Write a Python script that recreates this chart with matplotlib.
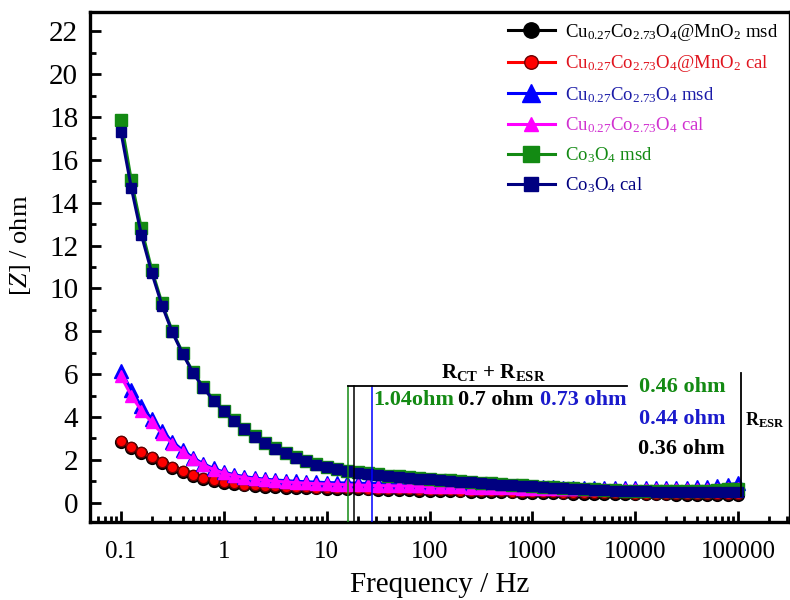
import matplotlib
matplotlib.use("Agg")
import matplotlib.pyplot as plt
from matplotlib.ticker import FixedLocator, FixedFormatter, MultipleLocator, LogLocator, NullFormatter

plt.rcParams["font.family"] = ["Liberation Serif", "DejaVu Serif"]
plt.rcParams["mathtext.fontset"] = "custom"
plt.rcParams["mathtext.rm"] = "Liberation Serif"
plt.rcParams["mathtext.it"] = "Liberation Serif:italic"
plt.rcParams["mathtext.bf"] = "Liberation Serif:bold"
plt.rcParams["mathtext.default"] = "regular"

# frequency grid (Hz), 10 points per decade
freq = [0.1, 0.126, 0.158, 0.2, 0.251, 0.316, 0.398, 0.501, 0.631, 0.794,
        1, 1.26, 1.58, 2, 2.51, 3.16, 3.98, 5.01, 6.31, 7.94,
        10, 12.6, 15.8, 20, 25.1, 31.6, 39.8, 50.1, 63.1, 79.4,
        100, 126, 158, 200, 251, 316, 398, 501, 631, 794,
        1000, 1260, 1580, 2000, 2510, 3160, 3980, 5010, 6310, 7940,
        10000, 12600, 15800, 20000, 25100, 31600, 39800, 50100, 63100, 79400,
        100000]

cu_mno2_msd = [2.85, 2.55, 2.3, 2.07, 1.85, 1.63, 1.44, 1.27, 1.13, 1.02,
               0.93, 0.86, 0.81, 0.77, 0.74, 0.72, 0.7, 0.69, 0.68, 0.67,
               0.66, 0.65, 0.64, 0.63, 0.62, 0.61, 0.6, 0.59, 0.58, 0.57,
               0.56, 0.55, 0.54, 0.53, 0.52, 0.51, 0.5, 0.49, 0.48, 0.47,
               0.46, 0.45, 0.44, 0.44, 0.43, 0.42, 0.42, 0.41, 0.41, 0.4,
               0.4, 0.39, 0.39, 0.39, 0.38, 0.38, 0.38, 0.38, 0.38, 0.38,
               0.38]
cu_mno2_cal = [2.9, 2.6, 2.36, 2.12, 1.9, 1.68, 1.48, 1.31, 1.17, 1.06,
               0.97, 0.9, 0.85, 0.81, 0.78, 0.76, 0.74, 0.73, 0.72, 0.71,
               0.7, 0.69, 0.68, 0.67, 0.66, 0.65, 0.64, 0.63, 0.62, 0.61,
               0.6, 0.59, 0.58, 0.57, 0.56, 0.55, 0.54, 0.53, 0.52, 0.51,
               0.5, 0.49, 0.48, 0.47, 0.46, 0.46, 0.45, 0.45, 0.44, 0.44,
               0.43, 0.43, 0.42, 0.42, 0.42, 0.41, 0.41, 0.41, 0.41, 0.4,
               0.4]
cu_msd = [6.15, 5.25, 4.5, 3.9, 3.35, 2.85, 2.45, 2.1, 1.82, 1.6,
          1.43, 1.31, 1.22, 1.15, 1.1, 1.06, 1.03, 1.0, 0.98, 0.96,
          0.94, 0.93, 0.92, 0.91, 0.9, 0.89, 0.88, 0.87, 0.86, 0.85,
          0.84, 0.83, 0.82, 0.81, 0.8, 0.79, 0.78, 0.77, 0.76, 0.75,
          0.74, 0.73, 0.72, 0.71, 0.7, 0.7, 0.69, 0.69, 0.69, 0.69,
          0.69, 0.69, 0.69, 0.69, 0.7, 0.7, 0.72, 0.75, 0.79, 0.84,
          0.9]
cu_cal = [5.9, 5.0, 4.3, 3.75, 3.22, 2.75, 2.36, 2.03, 1.76, 1.55,
          1.38, 1.26, 1.17, 1.1, 1.05, 1.0, 0.97, 0.94, 0.91, 0.89,
          0.87, 0.85, 0.84, 0.82, 0.81, 0.8, 0.79, 0.78, 0.77, 0.76,
          0.75, 0.74, 0.73, 0.72, 0.71, 0.7, 0.69, 0.68, 0.67, 0.66,
          0.66, 0.65, 0.65, 0.64, 0.64, 0.64, 0.64, 0.64, 0.64, 0.64,
          0.64, 0.64, 0.64, 0.64, 0.64, 0.65, 0.65, 0.66, 0.66, 0.67,
          0.68]
co3o4_msd = [17.85, 15.05, 12.8, 10.85, 9.3, 8.0, 7.0, 6.1, 5.4, 4.8,
             4.3, 3.85, 3.45, 3.1, 2.8, 2.55, 2.32, 2.12, 1.95, 1.8,
             1.68, 1.58, 1.5, 1.43, 1.37, 1.32, 1.27, 1.23, 1.19, 1.15,
             1.12, 1.08, 1.04, 1.0, 0.97, 0.93, 0.9, 0.87, 0.84, 0.81,
             0.78, 0.75, 0.72, 0.7, 0.67, 0.65, 0.63, 0.61, 0.59, 0.57,
             0.56, 0.55, 0.54, 0.53, 0.53, 0.53, 0.54, 0.56, 0.59, 0.62,
             0.66]
co3o4_cal = [17.3, 14.7, 12.5, 10.7, 9.2, 7.95, 6.95, 6.07, 5.37, 4.77,
             4.27, 3.83, 3.43, 3.08, 2.78, 2.53, 2.3, 2.1, 1.93, 1.78,
             1.66, 1.56, 1.48, 1.41, 1.35, 1.3, 1.25, 1.21, 1.17, 1.13,
             1.1, 1.06, 1.02, 0.98, 0.95, 0.91, 0.88, 0.85, 0.82, 0.79,
             0.76, 0.73, 0.7, 0.68, 0.65, 0.63, 0.61, 0.59, 0.57, 0.55,
             0.54, 0.53, 0.52, 0.51, 0.5, 0.5, 0.5, 0.5, 0.5, 0.5,
             0.5]

labels = [r"Cu$_{0.27}$Co$_{2.73}$O$_4$@MnO$_2$ msd",
          r"Cu$_{0.27}$Co$_{2.73}$O$_4$@MnO$_2$ cal",
          r"Cu$_{0.27}$Co$_{2.73}$O$_4$ msd",
          r"Cu$_{0.27}$Co$_{2.73}$O$_4$ cal",
          r"Co$_3$O$_4$ msd",
          r"Co$_3$O$_4$ cal"]
colors = ["black", "#ff0000", "#0000ff", "#ff00ff", "#138a13", "#000080"]
text_colors = ["black", "#e0141e", "#1c1ca8", "#d030d0", "#138a13", "#000080"]
xtick_vals = [0.1, 1, 10, 100, 1000, 10000, 100000]
xtick_text = ["0.1", "1", "10", "100", "1000", "10000", "100000"]

fig = plt.figure(figsize=(7.9, 6.0), dpi=100)
ax = fig.add_axes([90 / 790, 78 / 600, 700 / 790, 510 / 600])

series = [cu_mno2_msd, cu_mno2_cal, cu_msd, cu_cal, co3o4_msd, co3o4_cal]
markers = ["o", "o", "^", "^", "s", "s"]
msizes = [8.5, 7.5, 10, 8, 9, 7.5]
edges = ["black", "#6a0000", "#0000ff", "#ff00ff", "#138a13", "#000080"]
for vals, lab, c, m, ms, ec in zip(series, labels, colors, markers, msizes, edges):
    ax.plot(freq, vals, color=c, marker=m, markersize=ms, lw=2.2,
            markeredgecolor=ec, markeredgewidth=1.0, label=lab)

ax.set_xscale("log")
ax.set_xlim(0.05, 3.2e5)
ax.set_ylim(-0.9, 22.9)

ax.xaxis.set_major_locator(FixedLocator(xtick_vals))
ax.xaxis.set_major_formatter(FixedFormatter(xtick_text))
ax.xaxis.set_minor_locator(LogLocator(base=10, subs=range(2, 10), numticks=20))
ax.xaxis.set_minor_formatter(NullFormatter())
ax.yaxis.set_major_locator(MultipleLocator(2))
ax.yaxis.set_minor_locator(MultipleLocator(1))

ax.tick_params(which="both", direction="in", top=False, right=False, width=2)
ax.tick_params(which="major", length=8)
ax.tick_params(which="minor", length=4.5)
ax.tick_params(axis="x", which="major", labelsize=18, pad=14)
ax.tick_params(axis="y", which="major", labelsize=21, pad=8.5)
for sp in ax.spines.values():
    sp.set_linewidth(2.4)

ax.set_xlabel("Frequency / Hz", fontsize=21, labelpad=6)
ax.set_ylabel(r"[$\mathit{Z}$] / ohm", fontsize=19)
ax.yaxis.set_label_coords(-0.081, 0.543)

# R_CT + R_ESR markers
ax.plot([16.1, 16.1], [-0.9, 5.47], color="#138a13", lw=1.1, zorder=10)
ax.plot([18.4, 18.4], [-0.9, 5.47], color="black", lw=1.1, zorder=10)
ax.plot([27.6, 27.6], [-0.9, 5.47], color="#0000ff", lw=1.1, zorder=10)
ax.plot([16.1, 8300], [5.47, 5.47], color="black", lw=1.3, zorder=10)
ax.text(420, 5.6, r"$\mathbf{R}_{\mathbf{CT}}\mathbf{\,+\,R}_{\mathbf{ESR}}$",
        fontsize=15, ha="center", va="bottom")
ax.text(28.5, 4.8, "1.04ohm", color="#138a13", fontsize=16, fontweight="bold",
        ha="left", va="center")
ax.text(445, 4.8, "0.7 ohm", color="black", fontsize=16, fontweight="bold",
        ha="center", va="center")
ax.text(3100, 4.8, "0.73 ohm", color="#1a1acc", fontsize=16, fontweight="bold",
        ha="center", va="center")

# R_ESR markers
ax.plot([1.07e5, 1.07e5], [0.33, 6.07], color="black", lw=1.3, zorder=10)
ax.text(7.5e4, 5.4, "0.46 ohm", color="#138a13", fontsize=16, fontweight="bold",
        ha="right", va="center")
ax.text(7.5e4, 3.9, "0.44 ohm", color="#1a1acc", fontsize=16, fontweight="bold",
        ha="right", va="center")
ax.text(7.5e4, 2.5, "0.36 ohm", color="black", fontsize=16, fontweight="bold",
        ha="right", va="center")
ax.text(1.16e5, 3.85, r"$\mathbf{R}_{\mathbf{ESR}}$", fontsize=13,
        ha="left", va="center")

leg = ax.legend(loc="upper left", bbox_to_anchor=(508 / 790, 1 - 22 / 600),
                bbox_transform=fig.transFigure, frameon=False, fontsize=13.5,
                handlelength=2.5, handletextpad=0.56, labelspacing=0.56,
                markerscale=1.3, borderaxespad=0, borderpad=0)
for txt, c in zip(leg.get_texts(), text_colors):
    txt.set_color(c)

fig.savefig("out.png", dpi=100)
